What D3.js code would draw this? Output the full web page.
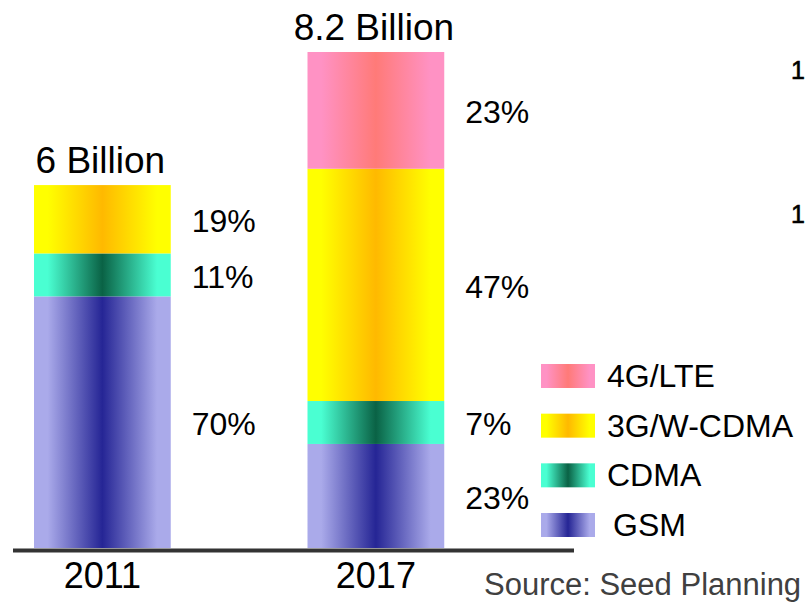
<!DOCTYPE html>
<html>
<head>
<meta charset="utf-8">
<script src="https://cdn.jsdelivr.net/npm/d3@7"></script>
<style>
  html, body { margin: 0; padding: 0; background: #fff; }
  svg { display: block; font-family: "Liberation Sans", Arial, sans-serif; }
</style>
</head>
<body>
<svg id="chart" width="807" height="602"></svg>
<script>
// Mobile subscriptions by technology, 2011 vs 2017

const years = ['2011', '2017'];
const totals = [6, 8.2];
const totalLabels = ['6 Billion', '8.2 Billion'];

// stack order bottom -> top
const techs = ['GSM', 'CDMA', '3G/W-CDMA', '4G/LTE'];

// segment sizes in billions
const gsmValues = [4.16, 1.72];
const cdmaValues = [0.71, 0.71];
const wcdmaValues = [1.13, 3.84];
const lteValues = [0, 1.93];

// share labels printed next to each segment
const gsmShares = ['70%', '23%'];
const cdmaShares = ['11%', '7%'];
const wcdmaShares = ['19%', '47%'];
const lteShares = ['', '23%'];

const legendOrder = ['4G/LTE', '3G/W-CDMA', 'CDMA', 'GSM'];
const sourceText = 'Source: Seed Planning';

// edge / centre colours of the horizontal gradients
const gradientColors = {
  'GSM': ['#aaaaea', '#252595'],
  'CDMA': ['#4affd2', '#0a6245'],
  '3G/W-CDMA': ['#ffff00', '#ffb900'],
  '4G/LTE': ['#ff92c4', '#ff7a78']
};

const svg = d3.select('#chart');
const defs = svg.append('defs');

techs.forEach((t, i) => {
  const [edge, mid] = gradientColors[t];
  const grad = defs.append('linearGradient')
    .attr('id', 'grad' + i)
    .attr('x1', '0%').attr('x2', '100%')
    .attr('y1', '0%').attr('y2', '0%');
  [[0, edge], [0.1, edge], [0.5, mid], [0.9, edge], [1, edge]].forEach(([o, c]) => {
    grad.append('stop').attr('offset', o).attr('stop-color', c);
  });
});

const valuesByTech = [gsmValues, cdmaValues, wcdmaValues, lteValues];
const sharesByTech = [gsmShares, cdmaShares, wcdmaShares, lteShares];

const rows = years.map((y, j) => {
  const row = { year: y };
  techs.forEach((t, i) => { row[t] = valuesByTech[i][j]; });
  return row;
});

const stacked = d3.stack().keys(techs)(rows);

const baseY = 548;
const yScale = d3.scaleLinear()
  .domain([0, 8.2])
  .range([baseY, 52]);

const xScale = d3.scaleBand()
  .domain(years)
  .range([34, 444.25])
  .paddingInner(0.5)
  .paddingOuter(0);

const layers = svg.selectAll('.layer')
  .data(stacked)
  .enter()
  .append('g')
  .attr('class', 'layer')
  .attr('fill', (d, i) => `url(#grad${i})`);

layers.selectAll('rect')
  .data(d => d.filter(s => s[1] - s[0] > 0))
  .enter()
  .append('rect')
  .attr('x', d => xScale(d.data.year))
  .attr('y', d => yScale(d[1]))
  .attr('width', xScale.bandwidth())
  .attr('height', d => yScale(d[0]) - yScale(d[1]));

// share labels
stacked.forEach((layer, i) => {
  layer.forEach((seg, j) => {
    const label = sharesByTech[i][j];
    if (!label) return;
    svg.append('text')
      .attr('x', xScale(seg.data.year) + xScale.bandwidth() + 21)
      .attr('y', (yScale(seg[0]) + yScale(seg[1])) / 2 + 13)
      .attr('font-size', '32px')
      .attr('fill', '#000')
      .text(label);
  });
});

// totals above bars
svg.selectAll('.total')
  .data(years)
  .enter()
  .append('text')
  .attr('class', 'total')
  .attr('x', d => xScale(d) + xScale.bandwidth() / 2 - 2)
  .attr('y', (d, i) => yScale(totals[i]) - 12)
  .attr('text-anchor', 'middle')
  .attr('font-size', '37px')
  .attr('fill', '#000')
  .text((d, i) => totalLabels[i]);

// baseline
svg.append('line')
  .attr('x1', 13).attr('x2', 574)
  .attr('y1', baseY + 2.5).attr('y2', baseY + 2.5)
  .attr('stroke', '#333')
  .attr('stroke-width', 4);

const xAxis = svg.append('g')
  .attr('transform', `translate(0,${baseY + 4})`)
  .call(d3.axisBottom(xScale).tickSize(0).tickPadding(36));
xAxis.select('.domain').remove();
xAxis.selectAll('text')
  .attr('font-size', '36px')
  .attr('font-family', '"Liberation Sans", Arial, sans-serif')
  .attr('fill', '#000')
  .attr('dy', 0);

// legend
const legendY = d3.scalePoint()
  .domain(legendOrder)
  .range([364, 513]);

const legend = svg.selectAll('.legend-item')
  .data(legendOrder)
  .enter()
  .append('g')
  .attr('class', 'legend-item')
  .attr('transform', d => `translate(541,${legendY(d)})`);

legend.append('rect')
  .attr('width', 54)
  .attr('height', 24)
  .attr('fill', d => `url(#grad${techs.indexOf(d)})`);

legend.append('text')
  .attr('x', d => d === 'GSM' ? 72 : 66)
  .attr('y', 23)
  .attr('font-size', '32px')
  .attr('fill', '#000')
  .text(d => d);

svg.append('text')
  .attr('x', 484)
  .attr('y', 595)
  .attr('font-size', '31px')
  .attr('fill', '#404040')
  .text(sourceText);

// fragments of neighbouring text cut off at the right edge
[79, 223].forEach(y => {
  svg.append('text')
    .attr('x', 791)
    .attr('y', y)
    .attr('font-size', '25px')
    .attr('fill', '#000')
    .attr('stroke', '#000')
    .attr('stroke-width', 0.6)
    .text('1');
});
</script>
</body>
</html>
